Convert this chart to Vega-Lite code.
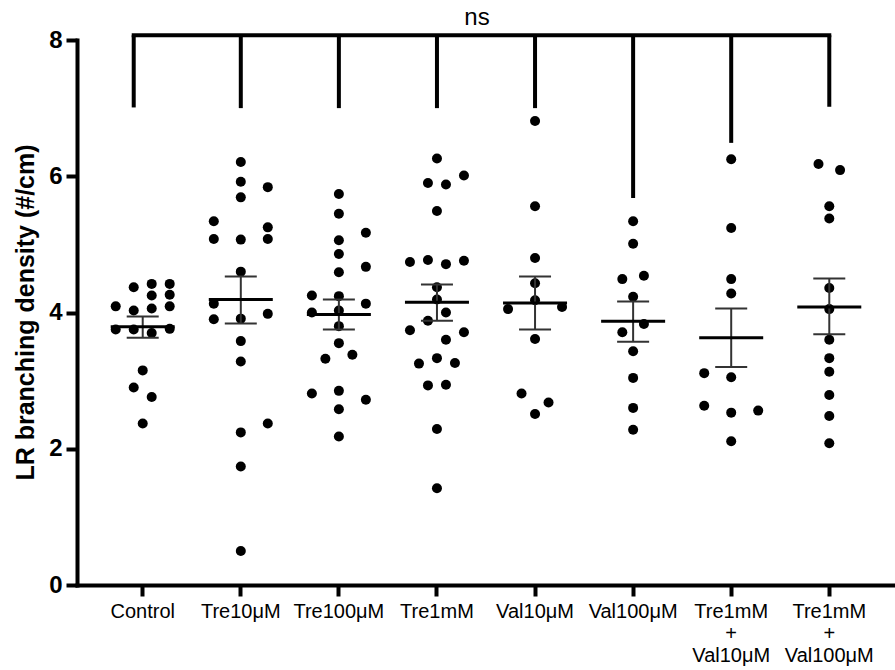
{
  "$schema": "https://vega.github.io/schema/vega-lite/v6.json",
  "autosize": {"type": "none"},
  "padding": {"left": 77, "top": 40, "right": 0, "bottom": 85},
  "width": 818,
  "height": 545,
  "background": "white",
  "config": {
    "view": {"stroke": null},
    "font": "Liberation Sans",
    "axis": {"grid": false, "domainColor": "black", "tickColor": "black", "labelColor": "black", "titleColor": "black", "domainWidth": 4, "tickWidth": 4, "tickSize": 11, "domainCap": "square"},
    "axisX": {"labelFontSize": 20, "labelPadding": 5, "labelLineHeight": 22, "labelAngle": 0, "labelFont": "Liberation Sans"},
    "axisY": {"labelFontSize": 24, "labelFontWeight": "bold", "labelPadding": 4, "labelFont": "Liberation Sans", "titleFontSize": 25, "titleFontWeight": "bold", "titleFont": "Liberation Sans"}
  },
  "datasets": {
    "points": [
      {"group": "Control", "value": 4.37, "col": -1},
      {"group": "Control", "value": 4.42, "col": 1},
      {"group": "Control", "value": 4.42, "col": 3},
      {"group": "Control", "value": 4.25, "col": 1},
      {"group": "Control", "value": 4.26, "col": 3},
      {"group": "Control", "value": 4.09, "col": -3},
      {"group": "Control", "value": 4.03, "col": -1},
      {"group": "Control", "value": 4.06, "col": 1},
      {"group": "Control", "value": 4.09, "col": 3},
      {"group": "Control", "value": 3.75, "col": -3},
      {"group": "Control", "value": 3.75, "col": -1},
      {"group": "Control", "value": 3.70, "col": 1},
      {"group": "Control", "value": 3.76, "col": 3},
      {"group": "Control", "value": 3.15, "col": 0},
      {"group": "Control", "value": 2.90, "col": -1},
      {"group": "Control", "value": 2.76, "col": 1},
      {"group": "Control", "value": 2.37, "col": 0},
      {"group": "Tre10μM", "value": 6.21, "col": 0},
      {"group": "Tre10μM", "value": 5.92, "col": 0},
      {"group": "Tre10μM", "value": 5.84, "col": 3},
      {"group": "Tre10μM", "value": 5.69, "col": 0},
      {"group": "Tre10μM", "value": 5.34, "col": -3},
      {"group": "Tre10μM", "value": 5.08, "col": -3},
      {"group": "Tre10μM", "value": 5.07, "col": 0},
      {"group": "Tre10μM", "value": 5.25, "col": 3},
      {"group": "Tre10μM", "value": 5.08, "col": 3},
      {"group": "Tre10μM", "value": 4.60, "col": 0},
      {"group": "Tre10μM", "value": 4.13, "col": -3},
      {"group": "Tre10μM", "value": 3.90, "col": -3},
      {"group": "Tre10μM", "value": 3.91, "col": 0},
      {"group": "Tre10μM", "value": 3.98, "col": 3},
      {"group": "Tre10μM", "value": 3.58, "col": 0},
      {"group": "Tre10μM", "value": 3.28, "col": 0},
      {"group": "Tre10μM", "value": 2.37, "col": 3},
      {"group": "Tre10μM", "value": 2.24, "col": 0},
      {"group": "Tre10μM", "value": 1.74, "col": 0},
      {"group": "Tre10μM", "value": 0.50, "col": 0},
      {"group": "Tre100μM", "value": 5.74, "col": 0},
      {"group": "Tre100μM", "value": 5.45, "col": 0},
      {"group": "Tre100μM", "value": 5.17, "col": 3},
      {"group": "Tre100μM", "value": 5.06, "col": 0},
      {"group": "Tre100μM", "value": 4.86, "col": 0},
      {"group": "Tre100μM", "value": 4.67, "col": 3},
      {"group": "Tre100μM", "value": 4.59, "col": 0},
      {"group": "Tre100μM", "value": 4.25, "col": -3},
      {"group": "Tre100μM", "value": 4.24, "col": 0},
      {"group": "Tre100μM", "value": 4.13, "col": 3},
      {"group": "Tre100μM", "value": 4.00, "col": -3},
      {"group": "Tre100μM", "value": 4.03, "col": 0},
      {"group": "Tre100μM", "value": 3.80, "col": 0},
      {"group": "Tre100μM", "value": 3.55, "col": 0},
      {"group": "Tre100μM", "value": 3.32, "col": -1.5},
      {"group": "Tre100μM", "value": 3.38, "col": 1.5},
      {"group": "Tre100μM", "value": 2.81, "col": -3},
      {"group": "Tre100μM", "value": 2.85, "col": 0},
      {"group": "Tre100μM", "value": 2.72, "col": 3},
      {"group": "Tre100μM", "value": 2.58, "col": 0},
      {"group": "Tre100μM", "value": 2.18, "col": 0},
      {"group": "Tre1mM", "value": 6.26, "col": 0},
      {"group": "Tre1mM", "value": 5.90, "col": -1},
      {"group": "Tre1mM", "value": 5.88, "col": 1},
      {"group": "Tre1mM", "value": 6.01, "col": 3},
      {"group": "Tre1mM", "value": 5.49, "col": 0},
      {"group": "Tre1mM", "value": 4.74, "col": -3},
      {"group": "Tre1mM", "value": 4.77, "col": -1},
      {"group": "Tre1mM", "value": 4.71, "col": 1},
      {"group": "Tre1mM", "value": 4.76, "col": 3},
      {"group": "Tre1mM", "value": 4.37, "col": 0},
      {"group": "Tre1mM", "value": 4.19, "col": 0},
      {"group": "Tre1mM", "value": 4.00, "col": 1},
      {"group": "Tre1mM", "value": 3.88, "col": -1},
      {"group": "Tre1mM", "value": 3.74, "col": -3},
      {"group": "Tre1mM", "value": 3.71, "col": 3},
      {"group": "Tre1mM", "value": 3.60, "col": 1},
      {"group": "Tre1mM", "value": 3.33, "col": 0},
      {"group": "Tre1mM", "value": 3.25, "col": -2},
      {"group": "Tre1mM", "value": 3.26, "col": 2},
      {"group": "Tre1mM", "value": 2.93, "col": -1},
      {"group": "Tre1mM", "value": 2.94, "col": 1},
      {"group": "Tre1mM", "value": 2.29, "col": 0},
      {"group": "Tre1mM", "value": 1.42, "col": 0},
      {"group": "Val10μM", "value": 6.81, "col": 0},
      {"group": "Val10μM", "value": 5.56, "col": 0},
      {"group": "Val10μM", "value": 4.80, "col": 0},
      {"group": "Val10μM", "value": 4.43, "col": 0},
      {"group": "Val10μM", "value": 4.18, "col": 0},
      {"group": "Val10μM", "value": 4.05, "col": -3},
      {"group": "Val10μM", "value": 4.08, "col": 3},
      {"group": "Val10μM", "value": 3.61, "col": 0},
      {"group": "Val10μM", "value": 2.81, "col": -1.5},
      {"group": "Val10μM", "value": 2.68, "col": 1.5},
      {"group": "Val10μM", "value": 2.51, "col": 0},
      {"group": "Val100μM", "value": 5.34, "col": 0},
      {"group": "Val100μM", "value": 5.01, "col": 0},
      {"group": "Val100μM", "value": 4.49, "col": -1.2},
      {"group": "Val100μM", "value": 4.54, "col": 1.2},
      {"group": "Val100μM", "value": 4.23, "col": 0},
      {"group": "Val100μM", "value": 3.83, "col": 1.2},
      {"group": "Val100μM", "value": 3.71, "col": -1.2},
      {"group": "Val100μM", "value": 3.43, "col": 0},
      {"group": "Val100μM", "value": 3.04, "col": 0},
      {"group": "Val100μM", "value": 2.60, "col": 0},
      {"group": "Val100μM", "value": 2.28, "col": 0},
      {"group": "Tre1mM + Val10μM", "value": 6.25, "col": 0},
      {"group": "Tre1mM + Val10μM", "value": 5.24, "col": 0},
      {"group": "Tre1mM + Val10μM", "value": 4.49, "col": 0},
      {"group": "Tre1mM + Val10μM", "value": 4.28, "col": 0},
      {"group": "Tre1mM + Val10μM", "value": 3.11, "col": -3},
      {"group": "Tre1mM + Val10μM", "value": 3.05, "col": 0},
      {"group": "Tre1mM + Val10μM", "value": 2.63, "col": -3},
      {"group": "Tre1mM + Val10μM", "value": 2.53, "col": 0},
      {"group": "Tre1mM + Val10μM", "value": 2.56, "col": 3},
      {"group": "Tre1mM + Val10μM", "value": 2.11, "col": 0},
      {"group": "Tre1mM + Val100μM", "value": 6.18, "col": -1.2},
      {"group": "Tre1mM + Val100μM", "value": 6.09, "col": 1.2},
      {"group": "Tre1mM + Val100μM", "value": 5.56, "col": 0},
      {"group": "Tre1mM + Val100μM", "value": 5.38, "col": 0},
      {"group": "Tre1mM + Val100μM", "value": 4.36, "col": 0},
      {"group": "Tre1mM + Val100μM", "value": 4.05, "col": 0},
      {"group": "Tre1mM + Val100μM", "value": 3.60, "col": 0},
      {"group": "Tre1mM + Val100μM", "value": 3.33, "col": 0},
      {"group": "Tre1mM + Val100μM", "value": 3.13, "col": 0},
      {"group": "Tre1mM + Val100μM", "value": 2.79, "col": 0},
      {"group": "Tre1mM + Val100μM", "value": 2.48, "col": 0},
      {"group": "Tre1mM + Val100μM", "value": 2.08, "col": 0}
    ],
    "stats": [
      {"group": "Control", "mean": 3.79, "lo": 3.63, "hi": 3.94},
      {"group": "Tre10μM", "mean": 4.19, "lo": 3.84, "hi": 4.53},
      {"group": "Tre100μM", "mean": 3.97, "lo": 3.75, "hi": 4.19},
      {"group": "Tre1mM", "mean": 4.15, "lo": 3.88, "hi": 4.41},
      {"group": "Val10μM", "mean": 4.14, "lo": 3.75, "hi": 4.53},
      {"group": "Val100μM", "mean": 3.87, "lo": 3.57, "hi": 4.16},
      {"group": "Tre1mM + Val10μM", "mean": 3.63, "lo": 3.20, "hi": 4.06},
      {"group": "Tre1mM + Val100μM", "mean": 4.08, "lo": 3.68, "hi": 4.50}
    ],
    "legs": [
      {"group": "Control", "top": 8.07, "bottom": 7.01, "col": -1},
      {"group": "Tre10μM", "top": 8.07, "bottom": 7.0, "col": 0},
      {"group": "Tre100μM", "top": 8.07, "bottom": 7.0, "col": 0},
      {"group": "Tre1mM", "top": 8.07, "bottom": 7.0, "col": 0},
      {"group": "Val10μM", "top": 8.07, "bottom": 7.0, "col": 0},
      {"group": "Val100μM", "top": 8.07, "bottom": 5.68, "col": 0},
      {"group": "Tre1mM + Val10μM", "top": 8.07, "bottom": 6.49, "col": 0},
      {"group": "Tre1mM + Val100μM", "top": 8.07, "bottom": 7.02, "col": 0}
    ],
    "bar": [
      {"group": "Control", "y": 8.07, "col": -1},
      {"group": "Tre1mM + Val100μM", "y": 8.07, "col": 0}
    ],
    "label": [
      {"text": "ns", "y": 8.33}
    ]
  },
  "layer": [
    {
      "data": {"name": "legs"},
      "mark": {"type": "rule", "strokeWidth": 4, "color": "black"},
      "encoding": {
        "x": {"field": "group", "type": "nominal", "title": null, "sort": ["Control", "Tre10μM", "Tre100μM", "Tre1mM", "Val10μM", "Val100μM", "Tre1mM + Val10μM", "Tre1mM + Val100μM"], "scale": {"type": "band", "paddingInner": 0, "paddingOuter": 0.17}, "axis": {"labelExpr": "split(datum.label, ' ')"}},
        "xOffset": {"field": "col", "type": "quantitative", "scale": {"domain": [-5.45, 5.45], "range": [0, 98.08]}},
        "y": {"field": "top", "type": "quantitative", "title": "LR branching density (#/cm)", "scale": {"domain": [0, 8], "nice": false, "zero": true}, "axis": {"values": [0, 2, 4, 6, 8], "format": "d", "titleAngle": 270, "titleX": -52, "titleY": 272, "titleAlign": "center", "titleBaseline": "middle"}},
        "y2": {"field": "bottom"}
      }
    },
    {
      "data": {"name": "bar"},
      "mark": {"type": "line", "strokeWidth": 4, "color": "black", "strokeCap": "square"},
      "encoding": {
        "x": {"field": "group", "type": "nominal", "title": null, "sort": ["Control", "Tre10μM", "Tre100μM", "Tre1mM", "Val10μM", "Val100μM", "Tre1mM + Val10μM", "Tre1mM + Val100μM"]},
        "xOffset": {"field": "col", "type": "quantitative"},
        "y": {"field": "y", "type": "quantitative", "title": "LR branching density (#/cm)"}
      }
    },
    {
      "data": {"name": "label"},
      "mark": {"type": "text", "fontSize": 24, "font": "Liberation Sans", "color": "black", "baseline": "middle", "align": "center", "dx": -9},
      "encoding": {
        "y": {"field": "y", "type": "quantitative", "title": "LR branching density (#/cm)"},
        "text": {"field": "text"}
      }
    },
    {
      "data": {"name": "points"},
      "mark": {"type": "circle", "size": 100, "color": "black", "opacity": 1},
      "encoding": {
        "x": {"field": "group", "type": "nominal", "title": null, "sort": ["Control", "Tre10μM", "Tre100μM", "Tre1mM", "Val10μM", "Val100μM", "Tre1mM + Val10μM", "Tre1mM + Val100μM"]},
        "xOffset": {"field": "col", "type": "quantitative"},
        "y": {"field": "value", "type": "quantitative", "title": "LR branching density (#/cm)"}
      }
    },
    {
      "data": {"name": "stats"},
      "mark": {"type": "rule", "strokeWidth": 2, "color": "#333333"},
      "encoding": {
        "x": {"field": "group", "type": "nominal", "title": null, "sort": ["Control", "Tre10μM", "Tre100μM", "Tre1mM", "Val10μM", "Val100μM", "Tre1mM + Val10μM", "Tre1mM + Val100μM"]},
        "y": {"field": "lo", "type": "quantitative", "title": "LR branching density (#/cm)"},
        "y2": {"field": "hi"}
      }
    },
    {
      "data": {"name": "stats"},
      "mark": {"type": "tick", "thickness": 2, "size": 32, "color": "#333333", "opacity": 1},
      "encoding": {
        "x": {"field": "group", "type": "nominal", "title": null, "sort": ["Control", "Tre10μM", "Tre100μM", "Tre1mM", "Val10μM", "Val100μM", "Tre1mM + Val10μM", "Tre1mM + Val100μM"]},
        "y": {"field": "lo", "type": "quantitative", "title": "LR branching density (#/cm)"}
      }
    },
    {
      "data": {"name": "stats"},
      "mark": {"type": "tick", "thickness": 2, "size": 32, "color": "#333333", "opacity": 1},
      "encoding": {
        "x": {"field": "group", "type": "nominal", "title": null, "sort": ["Control", "Tre10μM", "Tre100μM", "Tre1mM", "Val10μM", "Val100μM", "Tre1mM + Val10μM", "Tre1mM + Val100μM"]},
        "y": {"field": "hi", "type": "quantitative", "title": "LR branching density (#/cm)"}
      }
    },
    {
      "data": {"name": "stats"},
      "mark": {"type": "tick", "thickness": 3, "size": 64, "color": "black", "opacity": 1},
      "encoding": {
        "x": {"field": "group", "type": "nominal", "title": null, "sort": ["Control", "Tre10μM", "Tre100μM", "Tre1mM", "Val10μM", "Val100μM", "Tre1mM + Val10μM", "Tre1mM + Val100μM"]},
        "y": {"field": "mean", "type": "quantitative", "title": "LR branching density (#/cm)"}
      }
    }
  ]
}
